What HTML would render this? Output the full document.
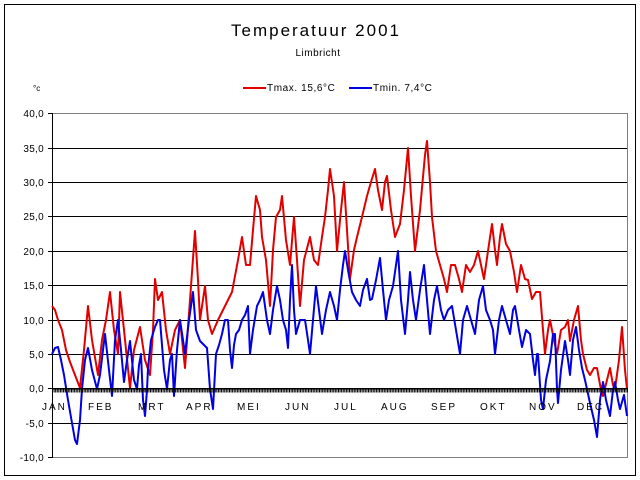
<!DOCTYPE html>
<html><head><meta charset="utf-8"><style>
body{margin:0;background:#fff}
svg{display:block;font-family:"Liberation Sans",Arial,sans-serif}
</style></head><body>
<svg width="640" height="480" viewBox="0 0 640 480">
<rect x="0" y="0" width="640" height="480" fill="#fff"/>
<rect x="4.5" y="4.5" width="631" height="471" fill="none" stroke="#000" stroke-width="1"/>
<text x="316" y="36" font-size="17" text-anchor="middle" letter-spacing="2">Temperatuur 2001</text>
<text x="318" y="56" font-size="10" text-anchor="middle" letter-spacing="0.5">Limbricht</text>
<text x="33" y="91" font-size="8">°c</text>
<line x1="243" y1="88" x2="266" y2="88" stroke="#e00000" stroke-width="2"/>
<text x="267" y="91" font-size="10" letter-spacing="0.6">Tmax. 15,6°C</text>
<line x1="349" y1="88" x2="372" y2="88" stroke="#0000e0" stroke-width="2"/>
<text x="373" y="91" font-size="10" letter-spacing="0.6">Tmin. 7,4°C</text>
<g stroke="#000" stroke-width="1">
<line x1="52" y1="148.5" x2="628" y2="148.5"/>
<line x1="52" y1="182.5" x2="628" y2="182.5"/>
<line x1="52" y1="216.5" x2="628" y2="216.5"/>
<line x1="52" y1="251.5" x2="628" y2="251.5"/>
<line x1="52" y1="285.5" x2="628" y2="285.5"/>
<line x1="52" y1="320.5" x2="628" y2="320.5"/>
<line x1="52" y1="354.5" x2="628" y2="354.5"/>
<line x1="52" y1="423.5" x2="628" y2="423.5"/>
<line x1="48" y1="113.5" x2="52" y2="113.5"/><line x1="48" y1="148.5" x2="52" y2="148.5"/><line x1="48" y1="182.5" x2="52" y2="182.5"/><line x1="48" y1="216.5" x2="52" y2="216.5"/><line x1="48" y1="251.5" x2="52" y2="251.5"/><line x1="48" y1="285.5" x2="52" y2="285.5"/><line x1="48" y1="320.5" x2="52" y2="320.5"/><line x1="48" y1="354.5" x2="52" y2="354.5"/><line x1="48" y1="388.5" x2="52" y2="388.5"/><line x1="48" y1="423.5" x2="52" y2="423.5"/><line x1="48" y1="457.5" x2="52" y2="457.5"/>
</g>
<rect x="52.5" y="113.5" width="575" height="344" fill="none" stroke="#808080" stroke-width="1"/>
<line x1="52.5" y1="113" x2="52.5" y2="458" stroke="#000"/>
<g font-size="10" text-anchor="end" letter-spacing="0.3">
<text x="44" y="117">40,0</text><text x="44" y="152">35,0</text><text x="44" y="186">30,0</text><text x="44" y="220">25,0</text><text x="44" y="255">20,0</text><text x="44" y="289">15,0</text><text x="44" y="324">10,0</text><text x="44" y="358">5,0</text><text x="44" y="392">0,0</text><text x="44" y="427">-5,0</text><text x="44" y="461">-10,0</text>
</g>
<polyline fill="none" stroke="#e00000" stroke-width="2" stroke-linejoin="round" points="52,306 55,310 58,320 62,330 66,350 70,362 75,375 80,388 84,350 88,306 92,340 98,375 102,340 106,320 110,292 114,330 118,354 120,292 124,330 130,388 134,350 140,327 145,360 150,375 153,330 155,279 158,300 162,292 166,330 170,354 175,330 180,320 185,368 190,300 195,231 198,280 200,320 205,286 208,320 212,334 218,320 225,306 232,292 238,260 242,237 246,265 250,265 253,230 256,196 260,210 262,237 266,260 270,306 273,250 276,217 280,210 282,196 286,240 290,265 294,217 297,260 300,306 304,260 310,237 314,260 318,265 322,237 325,217 328,190 330,169 334,196 337,251 341,210 344,182 347,230 350,279 354,250 357,237 362,217 367,196 371,182 375,169 378,190 382,210 385,182 387,176 391,210 395,237 400,224 404,190 408,148 411,196 415,251 420,210 425,155 427,141 430,182 432,217 436,251 440,265 444,279 447,292 451,265 455,265 459,279 462,292 466,265 470,272 474,265 478,251 481,265 484,279 488,251 492,224 495,250 497,265 500,237 502,224 506,244 510,251 514,272 517,292 521,265 525,279 528,280 532,299 536,292 540,292 543,330 545,354 548,330 550,320 554,340 557,354 561,330 565,327 568,320 570,341 574,320 578,306 581,340 583,354 587,370 590,375 594,368 597,368 601,390 603,396 607,380 610,368 613,385 615,389 619,360 622,327 625,370 627,389"/>
<polyline fill="none" stroke="#0000e0" stroke-width="2" stroke-linejoin="round" points="52,354 55,348 58,347 61,360 64,375 68,400 72,423 75,440 77,444 80,420 82,389 85,360 88,348 92,370 97,389 100,375 103,350 105,334 109,370 112,396 115,340 118,320 121,350 124,382 127,360 130,341 134,380 137,389 139,365 141,354 143,400 145,416 147,390 148,368 151,340 155,327 158,320 160,320 164,370 167,389 170,360 172,354 174,396 177,350 180,320 183,340 185,354 189,320 193,292 196,330 200,341 204,345 207,348 210,389 213,409 216,354 219,345 222,334 225,320 228,320 230,350 232,368 234,345 236,334 239,330 242,320 245,315 248,306 250,354 253,330 257,306 260,300 263,292 267,320 270,334 273,310 277,286 280,300 283,320 286,330 288,348 290,300 292,265 294,310 296,334 300,320 305,320 308,340 310,354 313,320 316,286 319,310 322,334 326,310 330,292 334,306 337,320 340,290 343,265 345,251 348,270 352,292 356,300 360,306 363,290 367,279 370,300 372,299 376,280 380,258 383,290 386,320 389,300 393,286 396,265 398,251 401,300 405,334 408,300 410,272 413,300 416,320 420,290 424,265 427,300 430,334 434,300 437,286 441,310 444,320 448,310 452,306 456,330 460,354 463,320 467,306 471,320 475,334 479,300 483,286 486,310 490,320 493,330 495,354 499,320 502,306 506,320 510,334 513,310 515,306 519,330 522,347 526,330 530,334 533,360 535,375 537,354 538,354 541,400 543,409 546,380 550,361 553,334 555,334 557,389 558,403 561,370 565,341 568,360 570,375 573,340 576,327 579,350 582,368 585,380 590,403 594,420 597,437 600,400 603,382 606,400 610,416 613,390 615,382 618,400 620,409 624,395 627,416"/>
<line x1="52" y1="388.8" x2="628" y2="388.8" stroke="#000" stroke-width="1.5"/>
<line x1="52" y1="391" x2="628" y2="391" stroke="#000" stroke-width="3" stroke-dasharray="1 0.58"/>
<g font-size="10" letter-spacing="2">
<text x="42" y="410">JAN</text><text x="88" y="410">FEB</text><text x="138" y="410">MRT</text><text x="186" y="410">APR</text><text x="237" y="410">MEI</text><text x="285" y="410">JUN</text><text x="334" y="410">JUL</text><text x="381" y="410">AUG</text><text x="431" y="410">SEP</text><text x="480" y="410">OKT</text><text x="529" y="410">NOV</text><text x="577" y="410">DEC</text>
</g>
</svg>
</body></html>
